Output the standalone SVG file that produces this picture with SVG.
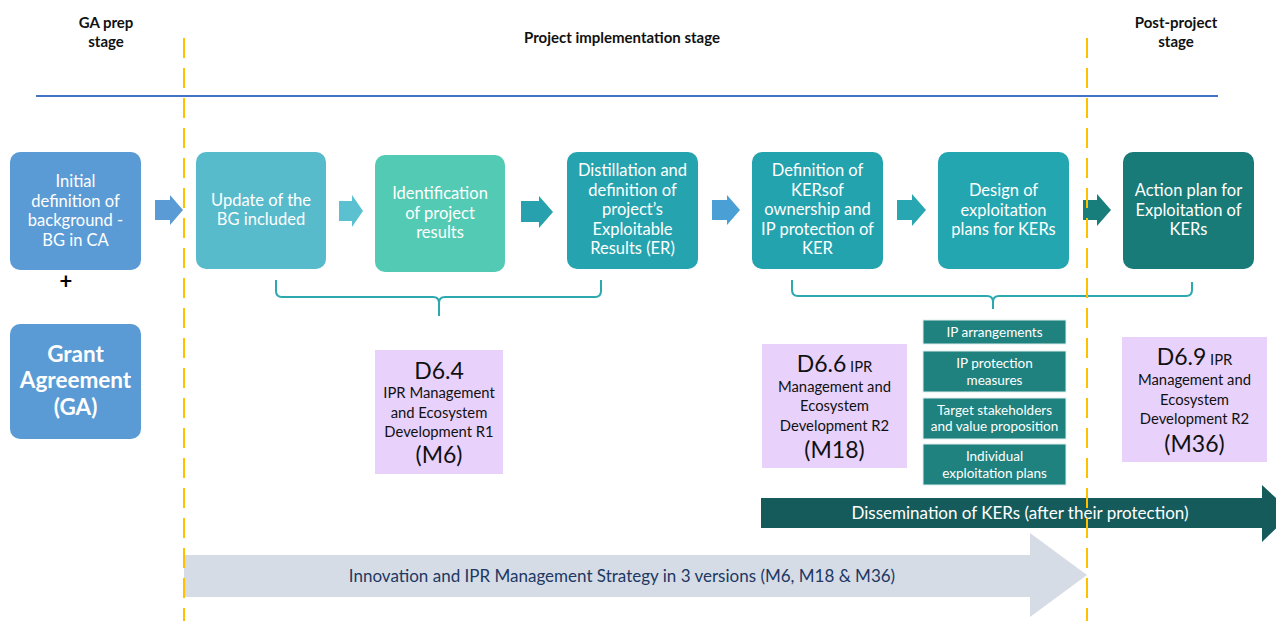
<svg xmlns="http://www.w3.org/2000/svg" width="1276" height="621" viewBox="0 0 1276 621">
  <style>
    text { font-family: Lato, "Liberation Sans", "DejaVu Sans", sans-serif; }
    .hdr { font-size: 15px; font-weight: bold; fill: #111; text-anchor: middle; }
    .box { font-size: 16.5px; fill: #fff; text-anchor: middle; }
    .ga { font-size: 22.5px; font-weight: bold; fill: #fff; text-anchor: middle; }
    .del { fill: #111; text-anchor: middle; }
    .big { font-size: 23px; }
    .small { font-size: 14.8px; }
    .sub { font-size: 13.5px; fill: #fff; text-anchor: middle; }
    .stage { stroke: #FFC000; stroke-width: 2; stroke-dasharray: 20 10; fill: none; }
    .brace { stroke: #2BA9AF; stroke-width: 2; fill: none; }
    .purple { fill: #E8D2FC; }
    .tealbox { fill: #1F827F; stroke: #DDEFEE; stroke-width: 1; }
  </style>

  <!-- stage headers -->
  <g id="headers">
    <text class="hdr" x="106" y="28">GA prep</text>
    <text class="hdr" x="106" y="47">stage</text>
    <text class="hdr" x="622" y="43">Project implementation stage</text>
    <text class="hdr" x="1176" y="28">Post-project</text>
    <text class="hdr" x="1176" y="47">stage</text>
  </g>

  <!-- timeline -->
  <line x1="36" y1="96" x2="1218" y2="96" stroke="#4472C4" stroke-width="2"/>

  <!-- long horizontal arrows -->
  <g id="innovation-strategy">
    <polygon points="184,555 1030,555 1030,533 1087,575 1030,617 1030,597 184,597" fill="#D6DCE5"/>
    <text x="622" y="582" font-size="17" fill="#203864" text-anchor="middle">Innovation and IPR Management Strategy in 3 versions (M6, M18 &amp; M36)</text>
  </g>
  <g id="dissemination">
    <polygon points="761,498 1262,498 1262,485 1292,513 1262,542 1262,528 761,528" fill="#155B5C"/>
    <text x="1020" y="519" font-size="17" fill="#fff" text-anchor="middle">Dissemination of KERs (after their protection)</text>
  </g>

  <!-- connectors: block arrows between steps and grouping braces -->
  <g id="connectors">
    <polygon points="155,200 170,200 170,195 183,210 170,225 170,220 155,220" fill="#5B9BD5"/>
    <polygon points="339,201 352,201 352,195 363,211 352,227 352,221 339,221" fill="#5BC0D0"/>
    <polygon points="521,201 539,201 539,196 553,212 539,228 539,222 521,222" fill="#26A1AD"/>
    <polygon points="712,200 727,200 727,195 740,210 727,225 727,220 712,220" fill="#4A9FD5"/>
    <polygon points="897,200 912,200 912,194 926,210 912,226 912,220 897,220" fill="#28A7B2"/>
    <polygon points="1083,200 1097,200 1097,194 1111,210 1097,226 1097,220 1083,220" fill="#187E7B"/>
    <path class="brace" d="M276,280 L276,291 Q276,297 282,297 L433,297 Q439,297 439,303 L439,316 M439,303 Q439,297 445,297 L595,297 Q601,297 601,291 L601,280"/>
    <path class="brace" d="M792,280 L792,290 Q792,296 798,296 L987,296 Q993,296 993,302 L993,309 M993,302 Q993,296 999,296 L1186,296 Q1192,296 1192,290 L1192,282"/>
  </g>

  <!-- stage boundaries -->
  <line class="stage" x1="184" y1="38" x2="184" y2="621"/>
  <line class="stage" x1="1087" y1="38" x2="1087" y2="621"/>

  <!-- process steps -->
  <g id="initial-definition">
    <rect x="10" y="152" width="131" height="118" rx="10" fill="#5B9BD5"/>
    <text class="box" x="75.5" y="187">Initial</text>
    <text class="box" x="75.5" y="206.5">definition of</text>
    <text class="box" x="75.5" y="226">background -</text>
    <text class="box" x="75.5" y="245.5">BG in CA</text>
  </g>
  <text id="plus" x="66" y="289" font-size="22" font-weight="bold" fill="#000" text-anchor="middle">+</text>
  <g id="grant-agreement">
    <rect x="10" y="324" width="131" height="115" rx="10" fill="#5B9BD5"/>
    <text class="ga" x="75.5" y="362">Grant</text>
    <text class="ga" x="75.5" y="388">Agreement</text>
    <text class="ga" x="75.5" y="415">(GA)</text>
  </g>
  <g id="update-bg">
    <rect x="196" y="152" width="130" height="117" rx="10" fill="#57BBCC"/>
    <text class="box" x="261" y="206">Update of the</text>
    <text class="box" x="261" y="225">BG included</text>
  </g>
  <g id="identification">
    <rect x="375" y="155" width="130" height="117" rx="10" fill="#53CAB4"/>
    <text class="box" x="440" y="199">Identification</text>
    <text class="box" x="440" y="218.5">of project</text>
    <text class="box" x="440" y="238">results</text>
  </g>
  <g id="distillation">
    <rect x="567" y="152" width="131" height="117" rx="10" fill="#25A4AF"/>
    <text class="box" x="632.5" y="176">Distillation and</text>
    <text class="box" x="632.5" y="195.5">definition of</text>
    <text class="box" x="632.5" y="215">project’s</text>
    <text class="box" x="632.5" y="234.5">Exploitable</text>
    <text class="box" x="632.5" y="254">Results (ER)</text>
  </g>
  <g id="definition-kers">
    <rect x="752" y="152" width="131" height="117" rx="10" fill="#23A3AE"/>
    <text class="box" x="817.5" y="176">Definition of</text>
    <text class="box" x="817.5" y="195.5">KERsof</text>
    <text class="box" x="817.5" y="215">ownership and</text>
    <text class="box" x="817.5" y="234.5">IP protection of</text>
    <text class="box" x="817.5" y="254">KER</text>
  </g>
  <g id="design-plans">
    <rect x="938" y="152" width="131" height="117" rx="10" fill="#23A6B0"/>
    <text class="box" x="1003.5" y="196">Design of</text>
    <text class="box" x="1003.5" y="215.5">exploitation</text>
    <text class="box" x="1003.5" y="235">plans for KERs</text>
  </g>
  <g id="action-plan">
    <rect x="1123" y="152" width="131" height="117" rx="10" fill="#187B78"/>
    <text class="box" x="1188.5" y="196">Action plan for</text>
    <text class="box" x="1188.5" y="215.5">Exploitation of</text>
    <text class="box" x="1188.5" y="235">KERs</text>
  </g>

  <!-- deliverables -->
  <g id="d6-4">
    <rect class="purple" x="375" y="350" width="128" height="124"/>
    <text class="del big" x="439" y="379">D6.4</text>
    <text class="del small" x="439" y="398">IPR Management</text>
    <text class="del small" x="439" y="418">and Ecosystem</text>
    <text class="del small" x="439" y="437">Development  R1</text>
    <text class="del big" x="439" y="463">(M6)</text>
  </g>
  <g id="d6-6">
    <rect class="purple" x="762" y="344" width="145" height="124"/>
    <text class="del" x="834.5" y="372"><tspan font-size="23">D6.6</tspan><tspan font-size="14.8"> IPR</tspan></text>
    <text class="del small" x="834.5" y="392">Management and</text>
    <text class="del small" x="834.5" y="411">Ecosystem</text>
    <text class="del small" x="834.5" y="431">Development  R2</text>
    <text class="del big" x="834.5" y="458">(M18)</text>
  </g>
  <g id="d6-9">
    <rect class="purple" x="1122" y="337" width="145" height="125"/>
    <text class="del" x="1194.5" y="365"><tspan font-size="23">D6.9</tspan><tspan font-size="14.8"> IPR</tspan></text>
    <text class="del small" x="1194.5" y="385">Management and</text>
    <text class="del small" x="1194.5" y="405">Ecosystem</text>
    <text class="del small" x="1194.5" y="424">Development  R2</text>
    <text class="del big" x="1194.5" y="452">(M36)</text>
  </g>

  <!-- exploitation plan components -->
  <g id="ip-arrangements">
    <rect class="tealbox" x="923" y="320" width="143" height="24"/>
    <text class="sub" x="994.5" y="337">IP arrangements</text>
  </g>
  <g id="ip-protection">
    <rect class="tealbox" x="923" y="351" width="143" height="41"/>
    <text class="sub" x="994.5" y="368">IP protection</text>
    <text class="sub" x="994.5" y="385">measures</text>
  </g>
  <g id="target-stakeholders">
    <rect class="tealbox" x="923" y="398" width="143" height="41"/>
    <text class="sub" x="994.5" y="415">Target stakeholders</text>
    <text class="sub" x="994.5" y="431">and value proposition</text>
  </g>
  <g id="individual-plans">
    <rect class="tealbox" x="923" y="444" width="143" height="41"/>
    <text class="sub" x="994.5" y="461">Individual</text>
    <text class="sub" x="994.5" y="478">exploitation plans</text>
  </g>
</svg>
